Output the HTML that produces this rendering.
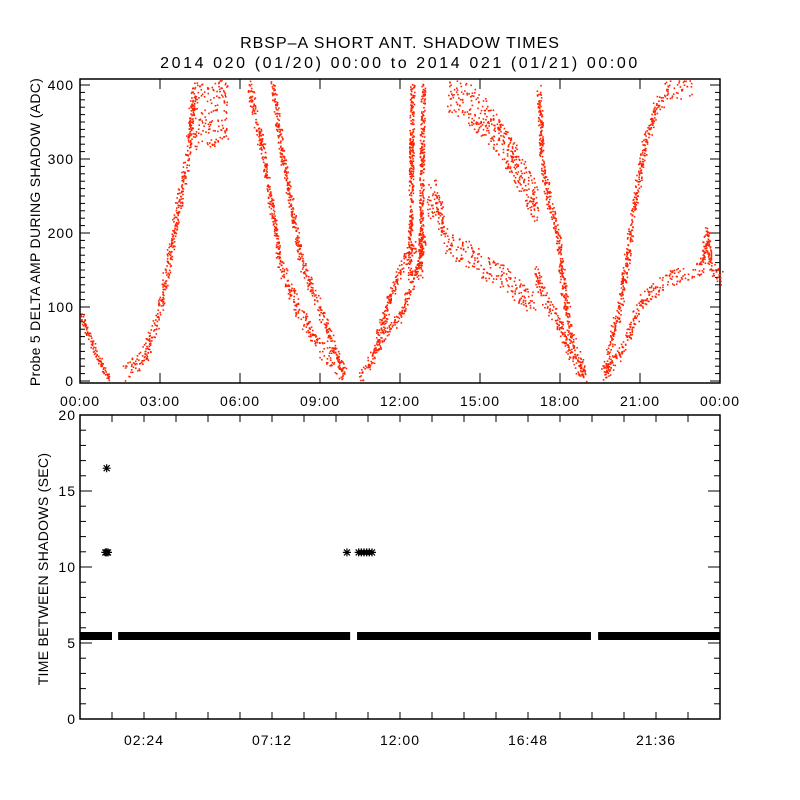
<!DOCTYPE html>
<html><head><meta charset="utf-8"><style>
html,body{margin:0;padding:0;background:#fff}
svg{display:block}
text{font-family:"Liberation Sans",sans-serif;fill:#000}
</style></head><body>
<svg id="chart" width="800" height="800" viewBox="0 0 800 800">
<text x="400" y="48" font-size="16" letter-spacing="1" text-anchor="middle">RBSP–A SHORT ANT. SHADOW TIMES</text>
<text x="400" y="68" font-size="16" letter-spacing="2.6" text-anchor="middle">2014 020 (01/20) 00:00 to 2014 021 (01/21) 00:00</text>
<g id="topPanel"></g>
<g id="botPanel"></g>
<text transform="translate(40,232) rotate(-90)" font-size="14" letter-spacing="0.3" text-anchor="middle">Probe 5 DELTA AMP DURING SHADOW (ADC)</text>
<text transform="translate(48,569) rotate(-90)" font-size="14" letter-spacing="0.3" text-anchor="middle">TIME BETWEEN SHADOWS (SEC)</text>
</svg>
<script>
// ---- top panel data: bands (hour, ADC) ----
const segA_t=[0,0.5,1.05], segA_v=[90,45,2], segA_w=10;
const segB_t=[1.55,2.0,2.45,3.0,3.5,4.0,4.25], segB_v=[8,22,40,100,200,300,395], segB_w=28;
const segC_t=[4.2,4.8,5.5], segC_v=[360,355,370], segC_w=90;
const segD1_t=[6.3,6.9,7.2,7.5,8.0,8.5,9.0,9.5,9.9], segD1_v=[405,300,230,160,110,75,45,25,8], segD1_w=26;
const segD2_t=[7.2,7.6,7.9,8.3,8.9,9.4,9.9], segD2_v=[405,300,240,160,105,55,10], segD2_w=20;
const segE1_t=[10.5,11.0,11.4,12.0,12.6,12.9], segE1_v=[4,35,65,87,150,195], segE1_w=18;
const segE2_t=[11.0,11.5,11.9,12.25,12.6], segE2_v=[40,100,146,168,186], segE2_w=18;
const segS1_t=[12.35,12.45], segS1_v=[140,400], segS1_w=6;
const segS2_t=[12.75,12.85], segS2_v=[140,400], segS2_w=6;
const segF_t=[13.0,13.3,13.6], segF_v=[240,250,215], segF_w=50;
const segG_t=[13.6,14.0,14.6,15.2,15.9,16.5,17.0], segG_v=[195,180,170,155,140,120,100], segG_w=36;
const segH_t=[17.05,17.3,17.6,18.0,18.4,18.9], segH_v=[150,120,100,75,33,6], segH_w=22;
const segI_t=[13.8,14.6,15.3,15.9,16.5,17.1], segI_v=[392,375,350,320,280,240], segI_w=55;
const segJ_t=[17.2,17.3,17.6,17.9,18.1,18.4,18.9], segJ_v=[395,300,240,200,130,60,8], segJ_w=26;
const segK1_t=[19.6,20.25,20.7,21.1,21.6,22.1,22.9], segK1_v=[8,105,218,308,375,395,395], segK1_w=26;
const segK2_t=[19.7,20.4,21.1,22.1,23.25,23.5,23.6,24.0], segK2_v=[8,50,110,140,150,200,160,140], segK2_w=22;
const topBands=[[segA_t,segA_v,segA_w],[segB_t,segB_v,segB_w],[segC_t,segC_v,segC_w],[segD1_t,segD1_v,segD1_w],[segD2_t,segD2_v,segD2_w],[segE1_t,segE1_v,segE1_w],[segE2_t,segE2_v,segE2_w],[segS1_t,segS1_v,segS1_w],[segS2_t,segS2_v,segS2_w],[segF_t,segF_v,segF_w],[segG_t,segG_v,segG_w],[segH_t,segH_v,segH_w],[segI_t,segI_v,segI_w],[segJ_t,segJ_v,segJ_w],[segK1_t,segK1_v,segK1_w],[segK2_t,segK2_v,segK2_w]];
const topYTicks=[0,100,200,300,400];
const topXTicks=["00:00","03:00","06:00","09:00","12:00","15:00","18:00","21:00","00:00"];
// ---- bottom panel data ----
const runStart=[0,1.43,10.39,19.43], runEnd=[1.2,10.13,19.16,24.0], runValue=5.46;
const outT=[0.95,1.0,1.05,1.0,10.01,10.45,10.55,10.65,10.75,10.85,10.95];
const outV=[10.96,10.96,10.96,16.5,10.96,10.96,10.96,10.96,10.96,10.96,10.96];
const botYTicks=[0,5,10,15,20];
const botXLabels=["02:24","07:12","12:00","16:48","21:36"];
const botXLabelHours=[2.4,7.2,12.0,16.8,21.6];

const NS="http://www.w3.org/2000/svg";
function mk(tag,attrs,parent){const e=document.createElementNS(NS,tag);for(const k in attrs)e.setAttribute(k,attrs[k]);parent.appendChild(e);return e;}
const X0=80,X1=720;
const xs=h=>X0+h/24*(X1-X0);
const T0=79,T1=383; const ty=v=>381-v*0.74;
const B0=415,B1=719; const by=v=>719-v*15.2;
const topG=document.getElementById('topPanel'), botG=document.getElementById('botPanel');

// top frame
const tf=mk('rect',{x:X0,y:T0,width:X1-X0,height:T1-T0,fill:'none',stroke:'#000','stroke-width':1.5},topG);


for(let v=0;v<=400;v+=10){const len=v%100===0?10:5;const y=ty(v);
 mk('line',{x1:X0,x2:X0+len,y1:y,y2:y,stroke:'#000'},topG);mk('line',{x1:X1-len,x2:X1,y1:y,y2:y,stroke:'#000'},topG);}
topYTicks.forEach(v=>{const t=mk('text',{x:74,y:ty(v)+5,'font-size':14,'letter-spacing':1,'text-anchor':'end'},topG);t.textContent=v;
 
 });
topXTicks.forEach((s,i)=>{const x=xs(i*3);
 mk('line',{x1:x,x2:x,y1:T1,y2:T1-10,stroke:'#000'},topG);mk('line',{x1:x,x2:x,y1:T0,y2:T0+10,stroke:'#000'},topG);
 const t=mk('text',{x:x,y:406,'font-size':14,'letter-spacing':1,'text-anchor':'middle'},topG);t.textContent=s;
 
 });
// dots: deterministic hash jitter to spread points across each band
const dots=mk('g',{fill:'#ff2200'},topG);


let idx=0;
const hash=i=>{const s=Math.sin(i*12.9898+78.233)*43758.5453;return s-Math.floor(s);};
topBands.forEach(([ts,vs,w])=>{
 for(let i=0;i<ts.length-1;i++){
  const xa=xs(ts[i]),ya=ty(vs[i]),xb=xs(ts[i+1]),yb=ty(vs[i+1]);
  const L=Math.hypot(xb-xa,yb-ya);const n=Math.max(2,Math.round(L/0.7*Math.max(1,w/30)));
  for(let k=0;k<n;k++){idx++;const f=hash(idx*3+1);
   const cx=xa+(xb-xa)*f+(hash(idx*3+2)*2-1)*2.2;
   const cy=ya+(yb-ya)*f+(hash(idx*3+3)*2-1)*w*0.74/2;
   if(cy<T0+1||cy>T1-2)continue;
   mk('rect',{x:cx.toFixed(1),y:cy.toFixed(1),width:1.6,height:1.6},dots);
  }
 }
});

// bottom frame
const bf=mk('rect',{x:X0,y:B0,width:X1-X0,height:B1-B0,fill:'none',stroke:'#000','stroke-width':1.5},botG);


for(let v=0;v<=20;v+=1){const len=v%5===0?12:6;const y=by(v);
 mk('line',{x1:X0,x2:X0+len,y1:y,y2:y,stroke:'#000'},botG);mk('line',{x1:X1-len,x2:X1,y1:y,y2:y,stroke:'#000'},botG);}
botYTicks.forEach(v=>{const t=mk('text',{x:76,y:by(v)+5,'font-size':14,'letter-spacing':1,'text-anchor':'end'},botG);t.textContent=v;
 
 });
for(let h=1.2;h<24;h+=1.2){const x=xs(h);
 mk('line',{x1:x,x2:x,y1:B1,y2:B1-7,stroke:'#000'},botG);mk('line',{x1:x,x2:x,y1:B0,y2:B0+7,stroke:'#000'},botG);}
botXLabels.forEach((s,i)=>{const t=mk('text',{x:xs(botXLabelHours[i]),y:745,'font-size':14,'letter-spacing':1,'text-anchor':'middle'},botG);t.textContent=s;
 
 });
function star(cx,cy,g){
 mk('path',{d:`M${cx-4} ${cy}H${cx+4}M${cx} ${cy-4}V${cy+4}M${cx-3} ${cy-3}L${cx+3} ${cy+3}M${cx-3} ${cy+3}L${cx+3} ${cy-3}`},g);
}
const stars=mk('g',{stroke:'#000','stroke-width':1.2,fill:'none'},botG);


runStart.forEach((s,i)=>{const a=xs(s)+4,b=xs(runEnd[i])-4;
 const band=mk('rect',{x:a-4,y:by(runValue)-4,width:b-a+8,height:8,fill:'#000',stroke:'none'},stars);
 
 
 for(let x=a;x<=b;x+=1.5)star(x,by(runValue),stars);});
outT.forEach((t,i)=>star(xs(t),by(outV[i]),stars));
</script>
</body></html>
